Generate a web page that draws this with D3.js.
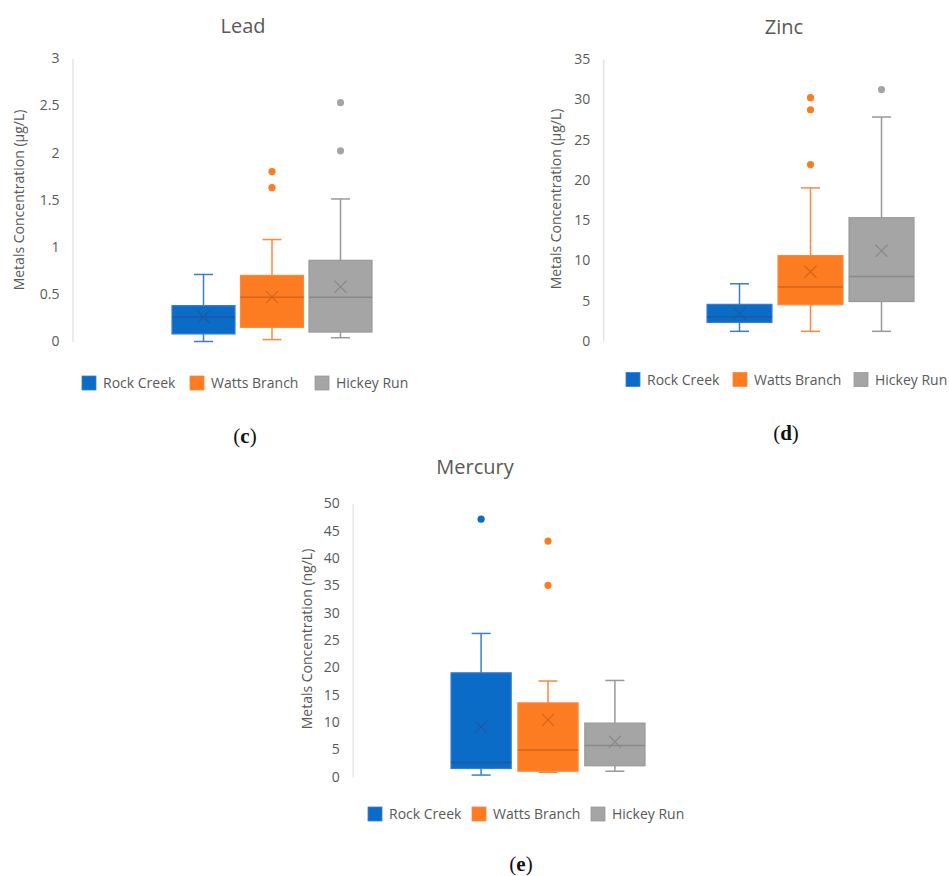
<!DOCTYPE html>
<html>
<head>
<meta charset="utf-8">
<script src="https://cdn.jsdelivr.net/npm/d3@7"></script>
<style>
  body { margin: 0; background: #ffffff; }
  svg { display: block; font-family: "Open Sans", "DejaVu Sans", sans-serif; }
</style>
</head>
<body>
<svg id="chart" width="949" height="876"></svg>
<script>
// ---------- DATA ----------
const series = ["Rock Creek", "Watts Branch", "Hickey Run"];

const leadMin      = [0.00, 0.02, 0.04];
const leadQ1       = [0.08, 0.15, 0.10];
const leadMedian   = [0.26, 0.47, 0.47];
const leadQ3       = [0.38, 0.70, 0.86];
const leadMax      = [0.71, 1.08, 1.51];
const leadMean     = [0.26, 0.47, 0.58];
const leadOutliers = [[], [1.80, 1.63], [2.53, 2.02]];
const leadTicks    = [0, 0.5, 1, 1.5, 2, 2.5, 3];

const zincMin      = [1.2, 1.2, 1.2];
const zincQ1       = [2.3, 4.5, 4.9];
const zincMedian   = [3.0, 6.7, 8.0];
const zincQ3       = [4.55, 10.6, 15.3];
const zincMax      = [7.1, 19.0, 27.8];
const zincMean     = [3.4, 8.6, 11.2];
const zincOutliers = [[], [30.2, 28.7, 21.9], [31.2]];
const zincTicks    = [0, 5, 10, 15, 20, 25, 30, 35];

const mercuryMin      = [0.3, 0.8, 1.0];
const mercuryQ1       = [1.5, 1.0, 2.0];
const mercuryMedian   = [2.6, 4.9, 5.7];
const mercuryQ3       = [19.0, 13.5, 9.8];
const mercuryMax      = [26.2, 17.5, 17.6];
const mercuryMean     = [9.1, 10.4, 6.4];
const mercuryOutliers = [[47.1], [43.1, 35.0], []];
const mercuryTicks    = [0, 5, 10, 15, 20, 25, 30, 35, 40, 45, 50];

const titles = ["Lead", "Zinc", "Mercury"];
const yLabels = ["Metals Concentration (\u03BCg/L)", "Metals Concentration (\u03BCg/L)", "Metals Concentration (ng/L)"];
const panelLetters = ["c", "d", "e"];

// ---------- STYLE ----------
const fillColors    = ["#0a6cc7", "#fd7b21", "#a5a5a5"];
const strokeColors  = ["#3a7dd0", "#f88a3e", "#999999"];
const darkColors    = ["#1d5aa0", "#d5651a", "#8a8a8a"];
const textColor = "#595959";

const svg = d3.select("#chart");

function buildStats(mn, q1, md, q3, mx, mean, outl) {
  return series.map((s, i) => ({
    name: s, i, min: mn[i], q1: q1[i], median: md[i], q3: q3[i], max: mx[i], mean: mean[i], outliers: outl[i]
  }));
}

const panels = [
  { stats: buildStats(leadMin, leadQ1, leadMedian, leadQ3, leadMax, leadMean, leadOutliers), ticks: leadTicks,
    axisX: 72.5, yRange: [341.5, 58.3], xRange: [172, 372], pad: 0.08, titleX: 243, titleY: 33,
    labelX: 18.5, labelY: 200, legendX: 82, legendY: 376, legendGaps: [0, 108, 233], letterX: 245, letterY: 443 },
  { stats: buildStats(zincMin, zincQ1, zincMedian, zincQ3, zincMax, zincMean, zincOutliers), ticks: zincTicks,
    axisX: 603.3, yRange: [341, 59], xRange: [707, 914], pad: 0.085, titleX: 784, titleY: 34,
    labelX: 555.5, labelY: 199, legendX: 626, legendY: 372.5, legendGaps: [0, 107, 228], letterX: 786, letterY: 440 },
  { stats: buildStats(mercuryMin, mercuryQ1, mercuryMedian, mercuryQ3, mercuryMax, mercuryMean, mercuryOutliers), ticks: mercuryTicks,
    axisX: 352.7, yRange: [776.7, 503.3], xRange: [451, 645], pad: 0.1, titleX: 475, titleY: 474,
    labelX: 306.5, labelY: 639, legendX: 368, legendY: 807, legendGaps: [0, 104, 223], letterX: 521, letterY: 871 }
];

panels.forEach((p, pi) => {
  const g = svg.append("g");
  const tMax = p.ticks[p.ticks.length - 1];
  const y = d3.scaleLinear().domain([0, tMax]).range(p.yRange);
  const x = d3.scaleBand().domain(series).range(p.xRange).paddingInner(p.pad).paddingOuter(0);
  const bw = x.bandwidth();

  // title
  g.append("text").attr("x", p.titleX).attr("y", p.titleY).attr("text-anchor", "middle")
    .style("font-size", "20px").attr("fill", textColor).text(titles[pi]);

  // y axis
  const axis = d3.axisLeft(y).tickValues(p.ticks).tickSize(0).tickPadding(13)
    .tickFormat(d => String(d));
  const ag = g.append("g").attr("transform", `translate(${p.axisX},0)`).call(axis);
  ag.select(".domain").attr("stroke", "#d9d9d9").attr("stroke-width", 1);
  ag.selectAll(".tick text").style("font-size", "14px").attr("fill", textColor)
    .style("font-family", "'Open Sans', sans-serif");

  // y label
  g.append("text").attr("transform", `translate(${p.labelX},${p.labelY}) rotate(-90)`)
    .attr("text-anchor", "middle").attr("dominant-baseline", "central")
    .style("font-size", "14px").attr("fill", textColor).text(yLabels[pi]);

  // boxes
  const bg = g.selectAll("g.box").data(p.stats).join("g").attr("class", "box");
  const cx = d => x(d.name) + bw / 2;
  const capW = 19;

  // whiskers
  bg.append("line").attr("x1", cx).attr("x2", cx).attr("y1", d => y(d.q3)).attr("y2", d => y(d.max))
    .attr("stroke", d => strokeColors[d.i]).attr("stroke-width", 1.5);
  bg.append("line").attr("x1", cx).attr("x2", cx).attr("y1", d => y(d.q1)).attr("y2", d => y(d.min))
    .attr("stroke", d => strokeColors[d.i]).attr("stroke-width", 1.5);
  bg.append("line").attr("x1", d => cx(d) - capW / 2).attr("x2", d => cx(d) + capW / 2)
    .attr("y1", d => y(d.max)).attr("y2", d => y(d.max))
    .attr("stroke", d => strokeColors[d.i]).attr("stroke-width", 1.5);
  bg.append("line").attr("x1", d => cx(d) - capW / 2).attr("x2", d => cx(d) + capW / 2)
    .attr("y1", d => y(d.min)).attr("y2", d => y(d.min))
    .attr("stroke", d => strokeColors[d.i]).attr("stroke-width", 1.5);

  // box
  bg.append("rect").attr("x", d => x(d.name)).attr("width", bw)
    .attr("y", d => y(d.q3)).attr("height", d => y(d.q1) - y(d.q3))
    .attr("fill", d => fillColors[d.i]).attr("stroke", d => strokeColors[d.i]).attr("stroke-width", 1.2);

  // median
  bg.append("line").attr("x1", d => x(d.name)).attr("x2", d => x(d.name) + bw)
    .attr("y1", d => y(d.median)).attr("y2", d => y(d.median))
    .attr("stroke", d => darkColors[d.i]).attr("stroke-width", 1.5);

  // mean X
  const xs = 6;
  bg.append("path").attr("d", d => {
      const mx = cx(d), my = y(d.mean);
      return `M${mx - xs},${my - xs}L${mx + xs},${my + xs}M${mx - xs},${my + xs}L${mx + xs},${my - xs}`;
    }).attr("stroke", d => darkColors[d.i]).attr("stroke-width", 1.2).attr("fill", "none");

  // outliers
  bg.selectAll("circle").data(d => d.outliers.map(v => ({ v, d }))).join("circle")
    .attr("cx", o => cx(o.d)).attr("cy", o => y(o.v)).attr("r", 3.6)
    .attr("fill", o => fillColors[o.d.i]);

  // legend
  const lg = g.append("g").attr("transform", `translate(${p.legendX},${p.legendY})`);
  series.forEach((s, i) => {
    lg.append("rect").attr("x", p.legendGaps[i]).attr("y", 0).attr("width", 14).attr("height", 14)
      .attr("fill", fillColors[i]).attr("stroke", strokeColors[i]).attr("stroke-width", 0.8);
    lg.append("text").attr("x", p.legendGaps[i] + 21).attr("y", 12)
      .style("font-size", "14px").attr("fill", textColor).text(s);
  });

  // panel letter
  const lt = g.append("text").attr("x", p.letterX).attr("y", p.letterY).attr("text-anchor", "middle")
    .style("font-family", "'Liberation Serif', 'DejaVu Serif', serif").style("font-size", "21px").attr("fill", "#111");
  lt.append("tspan").text("(");
  lt.append("tspan").style("font-weight", "bold").text(panelLetters[pi]);
  lt.append("tspan").text(")");
});
</script>
</body>
</html>
